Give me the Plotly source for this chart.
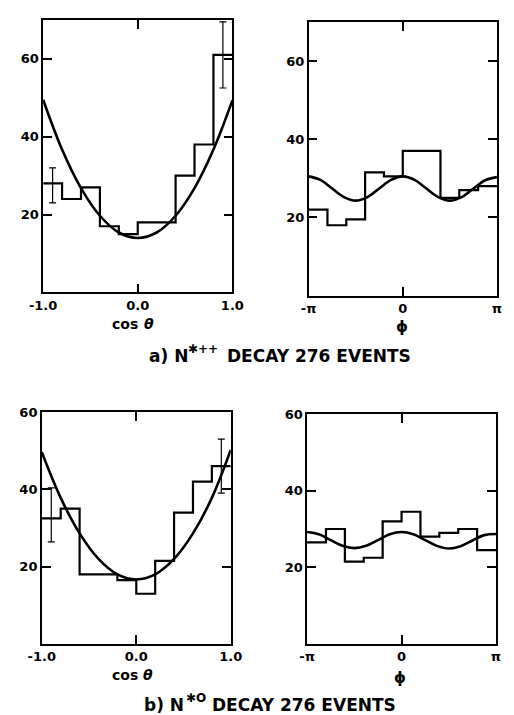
import numpy as np
import plotly.graph_objects as go

PI = np.pi

# ---- data -------------------------------------------------------------
# cos(theta) histograms: 10 bins of width 0.2 on [-1, 1]
cos_edges = [-1.0, -0.8, -0.6, -0.4, -0.2, 0.0, 0.2, 0.4, 0.6, 0.8, 1.0]
cos_counts_a = [28, 24, 27, 17, 15, 18, 18, 30, 38, 61]
cos_counts_b = [32.5, 35, 18, 18, 16.5, 13, 21.5, 34, 42, 46]

# phi histograms: 10 bins of width pi/5 on [-pi, pi]
phi_edges = [-PI + k * PI / 5 for k in range(11)]
phi_counts_a = [22, 18, 19.5, 31.5, 30.5, 37, 37, 25, 27, 28]
phi_counts_b = [26.5, 30, 21.5, 22.5, 32, 34.5, 28, 29, 30, 24.5]

# representative error bars (first and last bins)
err_x_cos = [-0.9, 0.9]
err_y_a = [27.5, 61]
err_a = [4.5, 8.5]
err_y_b = [33.4, 46]
err_b = [7, 7]

# fitted curves, sampled along x
fit_cos_x = [-1.0, -0.8, -0.6, -0.4, -0.2, 0.0, 0.2, 0.4, 0.6, 0.8, 1.0]
fit_cos_a = [49.5, 36.7, 26.8, 19.7, 15.4, 14.0, 15.4, 19.7, 26.8, 36.7, 49.3]
fit_cos_b = [49.6, 37.8, 28.6, 22.0, 18.0, 16.7, 18.0, 22.0, 28.6, 37.8, 50.2]

fit_phi_x = [-PI + k * PI / 8 for k in range(17)]
fit_phi_a = [30.5, 29.6, 27.4, 25.2, 24.3, 25.2, 27.4, 29.6, 30.5,
             29.6, 27.4, 25.2, 24.3, 25.2, 27.4, 29.5, 30.3]
fit_phi_b = [29.2, 28.6, 27.1, 25.6, 25.0, 25.6, 27.1, 28.6, 29.2,
             28.6, 27.1, 25.6, 24.9, 25.5, 27.0, 28.4, 28.7]

# ---- layout geometry (figure pixels) ----------------------------------
W, H = 514, 715


def xdom(x0, x1):
    return [x0 / W, x1 / W]


def ydom(top, bottom):
    return [1 - bottom / H, 1 - top / H]


FAMILY = "DejaVu Sans"
FONT = dict(family=FAMILY, size=13, color="black", weight="bold")
INK = "black"

fig = go.Figure()


def step_trace(edges, counts, xa, ya):
    xs = list(edges)
    ys = list(counts) + [counts[-1]]
    return go.Scatter(x=xs, y=ys, mode="lines", line=dict(shape="hv", color=INK, width=2.2),
                      xaxis=xa, yaxis=ya, hoverinfo="skip", showlegend=False)


def fit_trace(xs, ys, xa, ya):
    return go.Scatter(x=xs, y=ys, mode="lines", line=dict(shape="spline", smoothing=1.0, color=INK, width=2.6),
                      xaxis=xa, yaxis=ya, hoverinfo="skip", showlegend=False)


def err_trace(xs, ys, es, xa, ya):
    return go.Scatter(x=xs, y=ys, mode="markers", marker=dict(size=0.1, color=INK),
                      error_y=dict(type="data", array=es, visible=True, color=INK, thickness=1.2, width=3.5),
                      xaxis=xa, yaxis=ya, hoverinfo="skip", showlegend=False)


# panel a, cos theta
fig.add_trace(step_trace(cos_edges, cos_counts_a, "x", "y"))
fig.add_trace(fit_trace(fit_cos_x, fit_cos_a, "x", "y"))
fig.add_trace(err_trace(err_x_cos, err_y_a, err_a, "x", "y"))
# panel a, phi
fig.add_trace(step_trace(phi_edges, phi_counts_a, "x2", "y2"))
fig.add_trace(fit_trace(fit_phi_x, fit_phi_a, "x2", "y2"))
# panel b, cos theta
fig.add_trace(step_trace(cos_edges, cos_counts_b, "x3", "y3"))
fig.add_trace(fit_trace(fit_cos_x, fit_cos_b, "x3", "y3"))
fig.add_trace(err_trace(err_x_cos, err_y_b, err_b, "x3", "y3"))
# panel b, phi
fig.add_trace(step_trace(phi_edges, phi_counts_b, "x4", "y4"))
fig.add_trace(fit_trace(fit_phi_x, fit_phi_b, "x4", "y4"))

axis_common = dict(showline=True, linecolor=INK, linewidth=1.5, mirror="ticks",
                   ticks="inside", ticklen=9, tickwidth=1.5, tickcolor=INK,
                   showgrid=False, zeroline=False, tickfont=FONT, fixedrange=True)

cos_ticks = dict(range=[-1, 1], tickvals=[-1, 0, 1], ticktext=["-1.0", "0.0", "1.0"])
phi_ticks = dict(range=[-PI, PI], tickvals=[-PI, 0, PI], ticktext=["-π", "0", "π"])
y_ticks = dict(tickvals=[20, 40, 60], ticktext=["20", "40", "60"])

fig.update_layout(
    width=W, height=H, margin=dict(l=0, r=0, t=0, b=0),
    paper_bgcolor="white", plot_bgcolor="white", showlegend=False,
    xaxis=dict(domain=xdom(30.7, 230), anchor="y", **cos_ticks, **axis_common),
    yaxis=dict(domain=ydom(13, 288.3), anchor="x", range=[0, 70], **y_ticks, **axis_common),
    xaxis2=dict(domain=xdom(310.3, 508.7), anchor="y2", **phi_ticks, **axis_common),
    yaxis2=dict(domain=ydom(15, 291.5), anchor="x2", range=[0, 70], **y_ticks, **axis_common),
    xaxis3=dict(domain=xdom(29.3, 228.3), anchor="y3", **cos_ticks, **axis_common),
    yaxis3=dict(domain=ydom(409, 643.3), anchor="x3", range=[0, 60], **y_ticks, **axis_common),
    xaxis4=dict(domain=xdom(308.7, 507.7), anchor="y4", **phi_ticks, **axis_common),
    yaxis4=dict(domain=ydom(411, 643.3), anchor="x4", range=[0, 60], **y_ticks, **axis_common),
)


def label(text, xpx, ypx, size, style="normal"):
    fig.add_annotation(text=text, x=xpx / W, y=1 - ypx / H, xref="paper", yref="paper",
                       showarrow=False, xanchor="center", yanchor="middle", borderpad=0,
                       font=dict(family=FAMILY, size=size, color=INK, weight="bold", style=style))


# axis titles
label("cos", 117, 320, 14)
label("θ", 142, 320, 14, style="italic")
label("ϕ", 409, 323, 15)
label("cos", 117, 675, 14)
label("θ", 141, 675, 14, style="italic")
label("ϕ", 407, 678, 15)

# panel captions (superscripts set as separate, raised pieces)
label("a) N", 163, 352, 17)
label("✱++", 199, 345, 12)
label("DECAY 276 EVENTS", 321, 352, 17)
label("b) N", 158, 705, 17)
label("✱O", 192, 698, 12)
label("DECAY 276 EVENTS", 305, 705, 17)

fig.write_html("out.html")
